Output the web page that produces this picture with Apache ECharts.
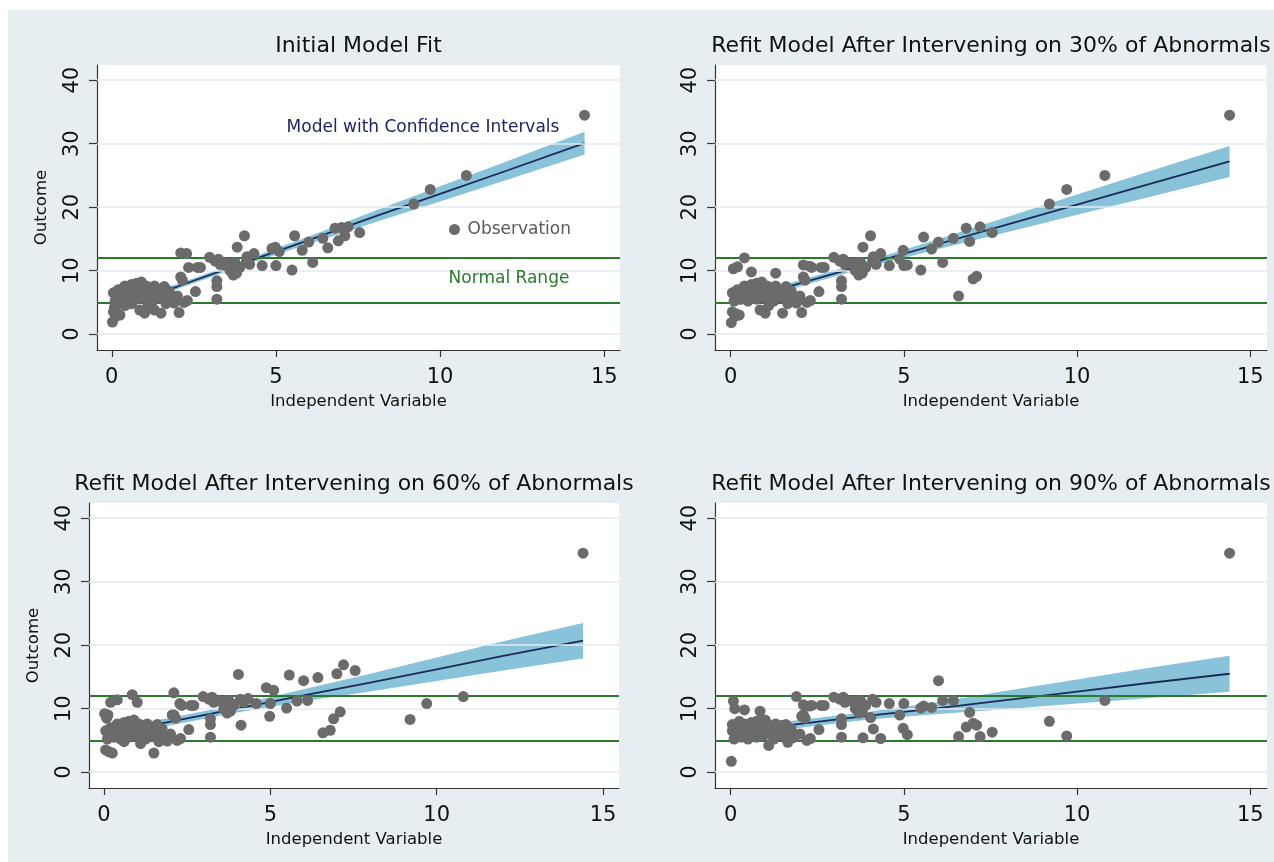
<!DOCTYPE html>
<html><head><meta charset="utf-8">
<script src="https://cdn.jsdelivr.net/npm/echarts@6/dist/echarts.min.js"></script>
<style>html,body{margin:0;padding:0;background:#fff}#c{width:1274px;height:862px}</style>
</head><body><div id="c"></div>
<script>
const titles = ['Initial Model Fit','Refit Model After Intervening on 30% of Abnormals','Refit Model After Intervening on 60% of Abnormals','Refit Model After Intervening on 90% of Abnormals'];
const xTicks = [0,5,10,15];
const yTicks = [0,10,20,30,40];
const normalRange = [5,12];
const xs = [0.02,0.05,0.08,0.10,0.05,0.12,0.15,0.20,0.25,0.30,
0.30,0.35,0.40,0.45,0.50,0.50,0.55,0.60,0.60,0.65,
0.70,0.75,0.75,0.80,0.85,0.90,0.90,0.95,1.00,1.00,
1.05,1.10,1.15,1.20,1.25,1.30,1.35,1.40,1.50,1.50,
1.60,1.65,1.70,1.80,1.90,2.00,2.05,2.10,2.10,2.20,
2.15,2.28,2.30,2.34,2.55,2.61,2.70,0.20,0.40,1.30,
1.75,1.85,2.98,3.15,3.25,3.20,3.20,3.20,3.30,3.50,
3.60,3.70,3.75,3.80,3.82,3.90,4.04,4.10,4.12,4.33,
4.20,4.58,4.88,4.98,5.00,5.10,5.49,5.57,5.80,6.00,
6.12,6.43,6.58,6.80,6.90,7.00,7.10,7.20,7.55,9.20,
9.70,10.80,14.40];
const y1 = [1.9,3.5,4.2,5.2,6.5,2.8,3.2,4.8,3.0,6.8,
5.5,7.2,4.5,6.0,7.5,5.2,6.6,7.8,4.8,6.2,
7.0,5.5,8.0,6.5,3.8,7.4,8.2,5.8,3.3,6.8,
7.6,4.5,6.0,7.2,5.2,3.8,6.5,7.0,3.3,5.8,
7.5,4.8,6.2,5.4,4.9,6.0,3.4,9.0,12.8,5.0,
8.5,12.7,5.3,10.5,6.7,10.5,10.5,7.0,7.6,7.6,
6.8,5.6,12.1,11.5,11.8,7.5,8.4,5.5,11.0,11.2,
10.0,9.3,11.3,9.6,13.7,10.5,15.5,11.5,12.2,12.7,
11.0,10.8,13.5,13.7,10.8,13.0,10.1,15.5,13.2,14.5,
11.3,15.1,13.6,16.7,14.7,16.8,15.5,16.9,16.0,20.5,
22.8,25.0,34.5];
const y2 = [1.8,3.5,10.3,5.2,6.5,2.8,3.2,10.6,3.0,6.8,
5.5,7.2,12.0,6.0,7.5,5.2,6.6,7.8,9.8,6.2,
7.0,5.5,8.0,6.5,3.8,7.4,8.2,5.8,3.3,6.8,
7.6,4.5,6.0,7.2,5.2,9.6,6.5,7.0,3.3,5.8,
7.5,4.8,6.2,5.4,4.9,6.0,3.4,9.0,10.9,5.0,
8.5,10.7,5.3,10.5,6.7,10.5,10.5,7.0,7.6,7.6,
6.8,5.6,12.1,11.5,11.8,7.5,8.4,5.5,11.0,11.2,
10.0,9.3,11.3,9.6,13.7,10.5,15.5,11.5,12.2,12.7,
11.0,10.8,11.8,13.2,10.8,10.9,10.1,15.3,13.4,14.5,
11.3,15.1,6.0,16.7,14.6,8.7,9.1,16.9,16.0,20.5,
22.8,25.0,34.5];
const y3 = [9.2,3.5,8.5,5.2,6.5,9.0,3.2,11.0,3.0,6.8,
5.5,7.2,11.4,6.0,7.5,5.2,6.6,7.8,4.8,6.2,
7.0,5.5,8.0,6.5,12.2,7.4,8.2,5.8,11.0,6.8,
7.6,4.5,6.0,7.2,5.2,7.0,6.5,7.0,3.0,5.8,
7.5,4.8,6.2,5.4,4.9,6.0,9.0,9.0,12.5,5.0,
8.5,10.8,5.3,10.5,6.7,10.5,10.5,7.0,7.6,7.6,
6.8,5.6,11.9,11.5,11.8,7.5,8.4,5.5,11.0,11.2,
10.0,9.3,11.3,9.6,10.8,10.5,15.4,11.5,7.4,11.6,
11.0,10.8,13.3,8.8,10.8,12.9,10.1,15.3,11.2,14.4,
11.3,14.9,6.2,6.6,8.4,15.5,9.5,16.9,16.0,8.3,
10.8,11.9,34.5];
const y4 = [1.7,7.5,11.2,5.2,6.5,10.0,6.2,7.0,8.0,6.8,
5.5,7.2,9.8,6.0,7.5,5.2,6.6,7.8,6.4,6.2,
7.0,5.5,8.0,6.5,9.6,7.4,8.2,5.8,8.2,6.8,
7.6,4.2,6.0,7.2,5.2,6.6,6.5,7.0,7.4,5.8,
7.5,4.7,6.2,5.4,11.9,6.0,8.8,9.0,10.6,5.0,
8.5,10.4,5.3,10.5,6.7,10.5,10.5,7.0,7.6,7.6,
6.8,5.6,11.8,11.5,11.8,7.5,8.4,5.5,11.0,11.2,
10.0,9.3,11.3,9.6,5.4,10.5,8.6,11.5,6.8,5.3,
11.0,10.8,9.0,6.9,10.8,5.9,10.1,10.4,10.2,14.4,
11.3,11.3,5.6,7.1,9.4,7.7,7.4,5.6,6.3,8.0,
5.7,11.3,34.5];
const fitX = [0,2,4,6,8,10,12,14.4];
const fit1 = [3.9,7.5,11.2,14.8,18.5,22.1,25.7,30.1];
const lo1 = [3.35,7.1,10.8,14.2,17.6,20.9,24.25,28.3];
const hi1 = [4.45,7.9,11.6,15.4,19.4,23.3,27.15,31.9];
const fit2 = [4.9,8.0,11.1,14.2,17.3,20.4,23.5,27.2];
const lo2 = [4.15,7.5,10.6,13.4,16.1,18.8,21.5,24.75];
const hi2 = [5.65,8.5,11.6,15.0,18.5,22.0,25.5,29.65];
const fit3 = [5.9,7.96,10.0,12.1,14.1,16.2,18.3,20.7];
const lo3 = [5.0,7.4,9.4,11.15,12.7,14.35,16.0,17.9];
const hi3 = [6.8,8.55,10.6,13.05,15.5,18.05,20.6,23.5];
const fit4 = [6.3,7.6,8.9,10.1,11.4,12.7,14.0,15.5];
const lo4 = [5.4,7.0,8.3,9.15,9.95,10.8,11.65,12.65];
const hi4 = [7.2,8.2,9.5,11.05,12.85,14.6,16.35,18.35];

const ys = [y1,y2,y3,y4];
const fits = [fit1,fit2,fit3,fit4];
const los = [lo1,lo2,lo3,lo4];
const his = [hi1,hi2,hi3,hi4];

const FONT = 'DejaVu Sans';
const grids = [
  {left:97, top:65, width:523, height:285},
  {left:715, top:65, width:552, height:285},
  {left:89, top:503, width:530, height:285},
  {left:715, top:503, width:552, height:285}
];
const showYName = [true,false,true,false];

const option = {
  backgroundColor:'#e7eef1',
  animation:false,
  textStyle:{fontFamily:FONT},
  title: grids.map((g,i)=>({
    text:titles[i], left:g.left+g.width/2, top:g.top-30, textAlign:'center', padding:0,
    textStyle:{fontFamily:FONT,fontSize:22,fontWeight:'normal',color:'#111'}
  })),
  legend:{data:['Observation'], left:449, top:221, padding:0, icon:'circle', itemWidth:16, itemHeight:11,
    textStyle:{fontFamily:FONT,fontSize:17,color:'#5a5a5a'}, selectedMode:false},
  grid: grids.map(g=>Object.assign({show:true, backgroundColor:'#fff', borderWidth:0}, g)),
  xAxis: grids.map((g,i)=>({
    type:'value', gridIndex:i, min:-0.45, max:15.48,
    name:'Independent Variable', nameLocation:'middle', nameGap:43,
    nameTextStyle:{fontFamily:FONT,fontSize:16.5,color:'#111'},
    axisLine:{show:true,onZero:false,lineStyle:{color:'#333',width:1.2}},
    axisTick:{show:true,length:7,customValues:xTicks,lineStyle:{color:'#333',width:1.2}},
    axisLabel:{customValues:xTicks,fontSize:21,color:'#111',margin:17,fontFamily:FONT},
    splitLine:{show:false}
  })),
  yAxis: grids.map((g,i)=>({
    type:'value', gridIndex:i, min:-2.5, max:42.4,
    name: showYName[i] ? 'Outcome' : '', nameLocation:'middle', nameGap:47,
    nameTextStyle:{fontFamily:FONT,fontSize:16.5,color:'#111'},
    axisLine:{show:true,onZero:false,lineStyle:{color:'#333',width:1.2}},
    axisTick:{show:true,length:8,customValues:yTicks,lineStyle:{color:'#333',width:1.2}},
    axisLabel:{customValues:yTicks,fontSize:21,color:'#111',margin:14,rotate:90,fontFamily:FONT},
    splitLine:{show:false}
  })),
  series: [],
  graphic:[
    {type:'rect', shape:{x:0,y:0,width:1274,height:10}, style:{fill:'#fff'}, z:-1, silent:true},
    {type:'rect', shape:{x:0,y:0,width:8,height:862}, style:{fill:'#fff'}, z:-1, silent:true},
    {type:'text', x:423, y:128, style:{text:'Model with Confidence Intervals', fontFamily:FONT, fontSize:17, fill:'#202462', align:'center', verticalAlign:'middle'}, z:10},
    {type:'text', x:509, y:279, style:{text:'Normal Range', fontFamily:FONT, fontSize:17, fill:'#2b7a2b', align:'center', verticalAlign:'middle'}, z:10}
  ]
};

function bandRenderer(i){
  return function(params, api){
    const pts = [];
    for (let j=0;j<fitX.length;j++) pts.push(api.coord([fitX[j], his[i][j]]));
    for (let j=fitX.length-1;j>=0;j--) pts.push(api.coord([fitX[j], los[i][j]]));
    return {type:'polygon', shape:{points:pts}, style:{fill:'#88c3d9'}, silent:true};
  };
}

for (let i=0;i<4;i++){
  option.series.push({
    type:'line', xAxisIndex:i, yAxisIndex:i, data:[], silent:true, z:1,
    markLine:{silent:true, symbol:['none','none'], label:{show:false}, animation:false,
      lineStyle:{color:'#e2eaee',width:1.5,type:'solid'}, data:yTicks.map(v=>({yAxis:v}))}
  });
  option.series.push({
    type:'line', xAxisIndex:i, yAxisIndex:i, data:[], silent:true, z:2,
    markLine:{silent:true, symbol:['none','none'], label:{show:false}, animation:false,
      lineStyle:{color:'#2b7a2b',width:2,type:'solid'}, data:normalRange.map(v=>({yAxis:v}))}
  });
  option.series.push({
    type:'custom', coordinateSystem:'cartesian2d', xAxisIndex:i, yAxisIndex:i, silent:true, z:3,
    data:[[fitX[0], fits[i][0]]], renderItem:bandRenderer(i)
  });
  option.series.push({
    type:'line', xAxisIndex:i, yAxisIndex:i, symbol:'none', silent:true, z:4,
    lineStyle:{color:'#1c2a5a',width:1.8}, data:fitX.map((x,j)=>[x, fits[i][j]])
  });
  option.series.push({
    name:'Observation', type:'scatter', xAxisIndex:i, yAxisIndex:i, symbol:'circle', symbolSize:11, z:5,
    itemStyle:{color:'#6b6b6b', opacity:1}, data:xs.map((x,j)=>[x, ys[i][j]])
  });
}

const chart = echarts.init(document.getElementById('c'), null, {renderer:'canvas'});
chart.setOption(option);
</script></body></html>
